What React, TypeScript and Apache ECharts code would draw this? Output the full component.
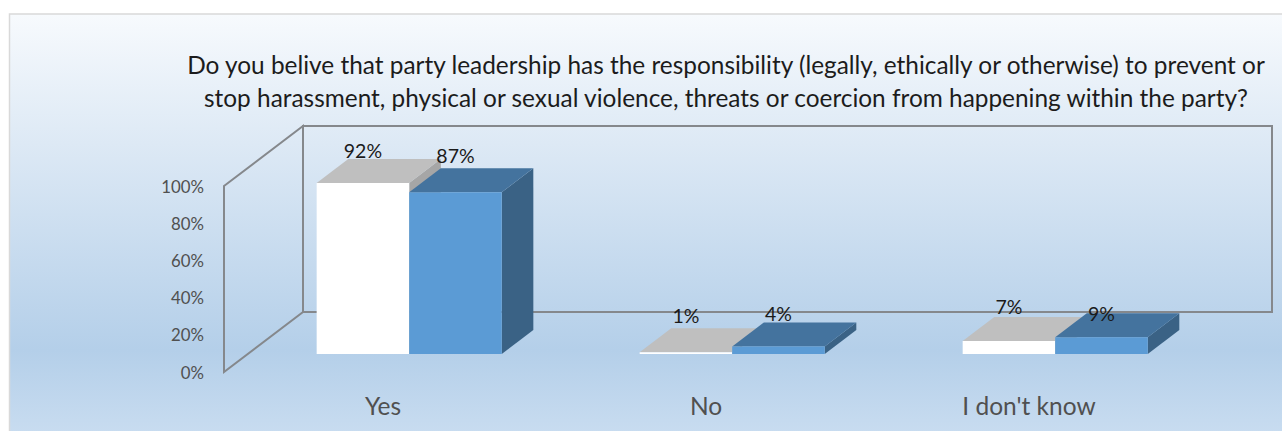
import React, { useEffect, useRef } from "react";
import * as echarts from "echarts";

const W = 1282;
const H = 431;

const titleText =
  "Do you belive that party leadership has the responsibility (legally, ethically or otherwise) to prevent or\nstop harassment, physical or sexual violence, threats or coercion from happening within the party?";
const answers = ["Yes", "No", "I don't know"];
const firstGroup = [92, 1, 7];
const secondGroup = [87, 4, 9];
const percentTicks = [0, 20, 40, 60, 80, 100];

// Vertical gap between a bar's front top edge and the centre of its value label.
const firstLabelLift = [32, 37, 34];
const secondLabelLift = [37, 33, 24];

// Oblique projection of the plot box: full depth, and where the bars sit inside it.
const DEPTH_X = 79;
const DEPTH_Y = 60;
const BAR_NEAR = 0.3;
const BAR_DEPTH = 0.4;
const BAR_WIDTH_RATIO = 0.2865;

const FONT = "Lato, 'Noto Sans', sans-serif";
const WALL = "#85888c";

type Pt = [number, number];

const face = (points: Pt[], fill: string) => ({
  type: "polygon",
  shape: { points },
  style: { fill, stroke: null },
});

function boxRenderer(
  side: -1 | 1,
  colors: { front: string; top: string; side: string },
  lifts: number[],
) {
  return (_params: any, api: any) => {
    const idx = api.value(0);
    const value = api.value(1);
    const [cx, topY] = api.coord([idx, value]);
    const [, baseY] = api.coord([idx, 0]);
    const width = api.size([1, 0])[0] * BAR_WIDTH_RATIO;

    const nearX = DEPTH_X * BAR_NEAR;
    const nearY = DEPTH_Y * BAR_NEAR;
    const dx = DEPTH_X * BAR_DEPTH;
    const dy = DEPTH_Y * BAR_DEPTH;

    const mid = cx + nearX;
    const x0 = side < 0 ? mid - width : mid;
    const x1 = x0 + width;
    const y1 = baseY - nearY;
    const y0 = topY - nearY;

    return {
      type: "group",
      children: [
        face(
          [
            [x1, y0],
            [x1 + dx, y0 - dy],
            [x1 + dx, y1 - dy],
            [x1, y1],
          ],
          colors.side,
        ),
        face(
          [
            [x0, y0],
            [x0 + dx, y0 - dy],
            [x1 + dx, y0 - dy],
            [x1, y0],
          ],
          colors.top,
        ),
        face(
          [
            [x0, y0],
            [x1, y0],
            [x1, y1],
            [x0, y1],
          ],
          colors.front,
        ),
        {
          type: "text",
          z2: 20,
          x: (x0 + x1) / 2,
          y: y0 - lifts[idx],
          style: {
            text: `${value}%`,
            fill: "#1a1a1a",
            font: `19.5px ${FONT}`,
            align: "center",
            verticalAlign: "middle",
          },
        },
      ],
    };
  };
}

// Back and side walls of the plot box, anchored to the cartesian grid.
function wallsRenderer(params: any) {
  const { x: left, y: top, width, height } = params.coordSys;
  const right = left + width;
  const bottom = top + height;
  const backL = left + DEPTH_X;
  const backR = right + DEPTH_X;
  const backT = top - DEPTH_Y;
  const backB = bottom - DEPTH_Y;
  const lineStyle = { fill: null, stroke: WALL, lineWidth: 2 };
  return {
    type: "group",
    children: [
      {
        type: "polygon",
        shape: {
          points: [
            [backL, backT],
            [backR, backT],
            [backR, backB],
            [backL, backB],
          ],
        },
        style: lineStyle,
      },
      {
        type: "polygon",
        shape: {
          points: [
            [left, top],
            [backL, backT],
            [backL, backB],
            [left, bottom],
          ],
        },
        style: lineStyle,
      },
    ],
  };
}

export default function App() {
  const ref = useRef<HTMLDivElement>(null);

  useEffect(() => {
    if (!ref.current) return;
    const chart = echarts.init(ref.current, undefined, { renderer: "svg", width: W, height: H });
    chart.setOption({
      animation: false,
      backgroundColor: "#ffffff",
      graphic: [
        {
          type: "rect",
          z: -10,
          silent: true,
          shape: { x: 9.5, y: 14, width: W, height: H },
          style: {
            stroke: "#d9d9d9",
            lineWidth: 1.5,
            fill: new echarts.graphic.LinearGradient(0, 0, 0, 1, [
              { offset: 0, color: "#f7fafd" },
              { offset: 0.3, color: "#dde9f5" },
              { offset: 0.78, color: "#b4cfe9" },
              { offset: 1, color: "#cbdef1" },
            ]),
          },
        },
      ],
      title: {
        text: titleText,
        left: 721,
        top: 43,
        textAlign: "center",
        textStyle: {
          fontFamily: FONT,
          fontWeight: "normal",
          fontSize: 24.4,
          lineHeight: 33,
          color: "#1c1c1c",
        },
      },
      grid: { left: 224, right: W - 1193, top: 186, bottom: H - 372, containLabel: false },
      xAxis: {
        type: "category",
        data: answers,
        axisLine: { show: false },
        axisTick: { show: false },
        axisLabel: {
          margin: 21,
          padding: [0, 5, 0, 0],
          fontFamily: FONT,
          fontSize: 24.5,
          color: "#505050",
        },
      },
      yAxis: {
        type: "value",
        min: percentTicks[0],
        max: percentTicks[percentTicks.length - 1],
        interval: 20,
        splitLine: { show: false },
        axisLine: { show: false },
        axisTick: { show: false },
        axisLabel: {
          margin: 20,
          padding: [0, 0, 2, 0],
          formatter: "{value}%",
          fontFamily: FONT,
          fontSize: 16.8,
          color: "#505050",
        },
      },
      series: [
        {
          type: "custom",
          z: 1,
          silent: true,
          clip: false,
          data: [[0, 0]],
          renderItem: wallsRenderer,
        },
        {
          type: "custom",
          z: 2,
          clip: false,
          data: firstGroup.map((v, i) => [i, v]),
          encode: { x: 0, y: 1 },
          renderItem: boxRenderer(-1, { front: "#ffffff", top: "#bfbfbf", side: "#a6a6a6" }, firstLabelLift),
        },
        {
          type: "custom",
          z: 3,
          clip: false,
          data: secondGroup.map((v, i) => [i, v]),
          encode: { x: 0, y: 1 },
          renderItem: boxRenderer(1, { front: "#5b9bd5", top: "#44739e", side: "#3a6285" }, secondLabelLift),
        },
      ],
    });
    return () => chart.dispose();
  }, []);

  return <div ref={ref} style={{ position: "absolute", left: 0, top: 0, width: W, height: H }} />;
}
